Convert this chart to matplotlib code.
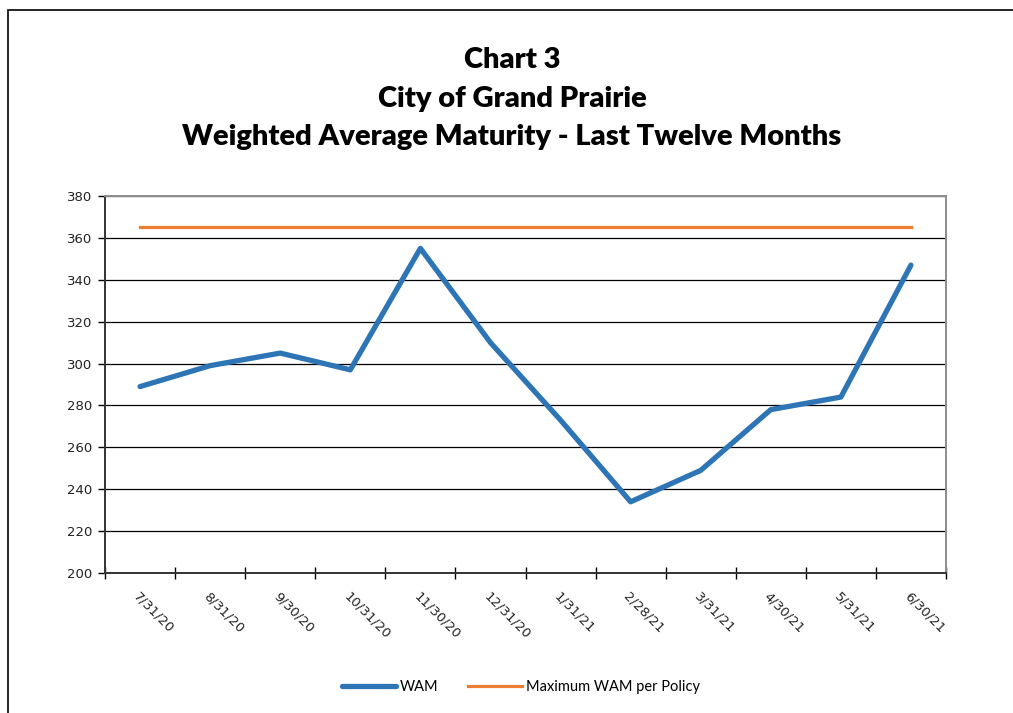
import matplotlib.pyplot as plt
from matplotlib.lines import Line2D
from matplotlib.patches import Rectangle
import numpy as np

dates = ["7/31/20", "8/31/20", "9/30/20", "10/31/20", "11/30/20", "12/31/20",
         "1/31/21", "2/28/21", "3/31/21", "4/30/21", "5/31/21", "6/30/21"]
wam = [289, 299, 305, 297, 355, 310, 273, 234, 249, 278, 284, 347]
max_wam = [365] * len(dates)

title_lines = ["Chart 3", "City of Grand Prairie",
               "Weighted Average Maturity - Last Twelve Months"]

blue = "#2e75b6"
orange = "#ed7d31"

fig = plt.figure(figsize=(10.13, 7.13), dpi=100)
W, H = 1013, 713

# outer chart border (runs off right/bottom of the picture)
fig.patches.append(Rectangle((8 / W, -0.05), 1.1, 1 - 10 / H + 0.05,
                             transform=fig.transFigure, fill=False,
                             ec="black", lw=1.2))

ax = fig.add_axes([105 / W, 1 - 573 / H, (946 - 105) / W, (573 - 196) / H])

x = np.arange(len(dates))
ax.plot(x, wam, color=blue, lw=3.8, solid_capstyle="round", zorder=3)
ax.plot(x, max_wam, color=orange, lw=2.3, zorder=3)

ax.set_xlim(-0.5, len(dates) - 0.5)
ax.set_ylim(200, 380)
ax.set_yticks(np.arange(200, 381, 20))
ax.yaxis.grid(True, color="black", lw=0.9)
ax.set_axisbelow(True)

# category ticks sit on the boundaries between categories
ax.set_xticks(np.arange(-0.5, len(dates)), minor=False)
ax.set_xticklabels([])
ax.set_xticks(x, minor=True)
ax.set_xticklabels(dates, minor=True, rotation=-45, ha="left", va="top",
                   rotation_mode="anchor", fontsize=9.5, color="#222222")
ax.tick_params(axis="x", which="major", direction="inout", length=9, width=1)
ax.tick_params(axis="x", which="minor", length=0, pad=12)
ax.tick_params(axis="y", direction="out", length=5, width=1,
               labelsize=9.5, labelcolor="#222222", pad=4)

for s in ["left", "bottom"]:
    ax.spines[s].set_color("#333333")
    ax.spines[s].set_linewidth(1.4)
for s in ["top", "right"]:
    ax.spines[s].set_color("#8c8c8c")
    ax.spines[s].set_linewidth(1.4)

for i, t in enumerate(title_lines):
    fig.text(512 / W, 1 - (60 + i * 38.5) / H, t, ha="center", va="center",
             fontsize=21, fontweight="heavy", family="Lato")

handles = [Line2D([], [], color=blue, lw=3.8, solid_capstyle="round"),
           Line2D([], [], color=orange, lw=2.3)]
fig.legend(handles, ["WAM", "Maximum WAM per Policy"], loc="center",
           bbox_to_anchor=(521 / W, 1 - 687 / H), ncol=2, frameon=False,
           prop={"family": "Lato", "size": 10.5}, handlelength=3.7,
           handletextpad=0.3, columnspacing=2.0)

fig.savefig("out.png", dpi=100)
